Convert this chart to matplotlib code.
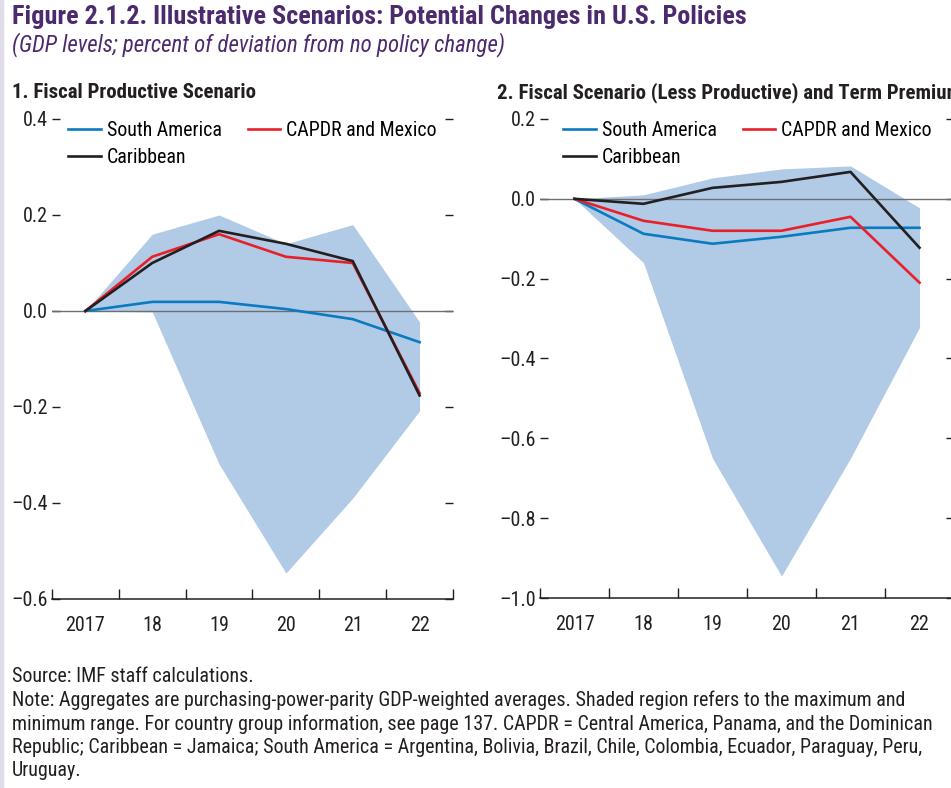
import matplotlib
matplotlib.use("Agg")
import matplotlib.pyplot as plt
import numpy as np
from matplotlib.patches import Rectangle

plt.rcParams['font.family'] = ['Roboto Condensed', 'DejaVu Sans']

# data
years = ['2017', '18', '19', '20', '21', '22']

p1_south_america = [0.0, 0.019, 0.019, 0.004, -0.017, -0.065]
p1_capdr_mexico = [0.0, 0.113, 0.160, 0.113, 0.100, -0.171]
p1_caribbean = [0.0, 0.100, 0.167, 0.140, 0.104, -0.176]
p1_range_max = [0.0, 0.160, 0.200, 0.140, 0.180, -0.023]
p1_range_min = [0.0, -0.002, -0.319, -0.546, -0.390, -0.208]

p2_south_america = [0.0, -0.0875, -0.1125, -0.095, -0.0725, -0.0725]
p2_capdr_mexico = [0.0, -0.055, -0.080, -0.080, -0.045, -0.210]
p2_caribbean = [0.0, -0.0125, 0.0275, 0.0425, 0.0675, -0.1225]
p2_range_max = [0.0, 0.010, 0.0525, 0.075, 0.0825, -0.0225]
p2_range_min = [0.0, -0.160, -0.650, -0.945, -0.650, -0.3225]

title = "Figure 2.1.2. Illustrative Scenarios: Potential Changes in U.S. Policies"
subtitle = "(GDP levels; percent of deviation from no policy change)"
panel_titles = ["1. Fiscal Productive Scenario",
                "2. Fiscal Scenario (Less Productive) and Term Premium"]
notes = ["Source: IMF staff calculations.",
         "Note: Aggregates are purchasing-power-parity GDP-weighted averages. Shaded region refers to the maximum and",
         "minimum range. For country group information, see page 137. CAPDR = Central America, Panama, and the Dominican",
         "Republic; Caribbean = Jamaica; South America = Argentina, Bolivia, Brazil, Chile, Colombia, Ecuador, Paraguay, Peru,",
         "Uruguay."]

BLUE = '#0a7bc1'
RED = '#e8202a'
BLACK = '#231f20'
SHADE = '#b1cbe6'
PURPLE = '#4b2a6e'
W, H = 951, 788

fig = plt.figure(figsize=(W / 100, H / 100), dpi=100)
fig.patches.append(Rectangle((0, 0), 3 / W, 1, transform=fig.transFigure,
                             color='#e0dcea', zorder=0))

fig.text(12 / W, 1 - 17 / H, title, fontsize=18.8, fontweight='bold', color=PURPLE, va='center')
fig.text(12 / W, 1 - 45 / H, subtitle, fontsize=16.5, style='italic', color=PURPLE, va='center')


def draw_panel(rect, sa, capdr, carib, rmax, rmin, ylim, yticks, ptitle, tx, leg_dx):
    ax = fig.add_axes(rect)
    x = np.arange(len(years))
    ax.fill_between(x, rmin, rmax, color=SHADE, lw=0, zorder=1)
    ax.axhline(0, color='#6d6e71', lw=1, zorder=2)
    ax.plot(x, sa, color=BLUE, lw=1.9, label='South America', zorder=3)
    ax.plot(x, carib, color=BLACK, lw=1.9, label='Caribbean', zorder=4)
    ax.plot(x, capdr, color=RED, lw=1.9, label='CAPDR and Mexico', zorder=3)
    ax.set_xlim(-0.5, len(years) - 0.5)
    ax.set_ylim(*ylim)
    ax.set_yticks(yticks)
    ax.set_yticklabels([f"{v:.1f}".replace('-', '\u2013') for v in yticks])
    ax.set_xticks(np.arange(-0.5, len(years), 1))
    ax.set_xticklabels([])
    ax.set_xticks(x, minor=True)
    ax.set_xticklabels(years, minor=True)
    ax.tick_params(axis='x', which='major', direction='in', length=7, color=BLACK, width=1)
    ax.tick_params(axis='x', which='minor', length=0, pad=12.5, labelsize=14.5, labelcolor=BLACK)
    ax.tick_params(axis='y', direction='in', length=6, left=True, right=True,
                   pad=3, labelsize=14.5, labelcolor=BLACK, color=BLACK, width=1)
    for s in ['top', 'left', 'right']:
        ax.spines[s].set_visible(False)
    ax.spines['bottom'].set_color(BLACK)
    ax.spines['bottom'].set_linewidth(1.1)
    ax.spines['bottom'].set_zorder(5)
    ax.legend(ncol=2, frameon=False, loc='upper left',
              bbox_to_anchor=(leg_dx / (rect[2] * W), 1 - 1.5 / (rect[3] * H)), fontsize=14.3,
              handlelength=1.65, handletextpad=0.3, columnspacing=1.3,
              labelspacing=0.42, borderaxespad=0, borderpad=0)
    fig.text(tx / W, 1 - 93 / H, ptitle, fontsize=15, fontweight='bold', color=BLACK, va='center')
    return ax


draw_panel([52 / W, 1 - 599 / H, 401 / W, 480 / H],
           p1_south_america, p1_capdr_mexico, p1_caribbean, p1_range_max, p1_range_min,
           (-0.6, 0.4), [-0.6, -0.4, -0.2, 0.0, 0.2, 0.4], panel_titles[0], 12, 16)
draw_panel([540 / W, 1 - 598 / H, 414 / W, 479 / H],
           p2_south_america, p2_capdr_mexico, p2_caribbean, p2_range_max, p2_range_min,
           (-1.0, 0.2), [-1.0, -0.8, -0.6, -0.4, -0.2, 0.0, 0.2], panel_titles[1], 497, 23)

for i, line in enumerate(notes):
    fig.text(12 / W, 1 - (677 + i * 23.5) / H, line, fontsize=14.4, color=BLACK, va='center')

fig.savefig('out.png', dpi=100)
